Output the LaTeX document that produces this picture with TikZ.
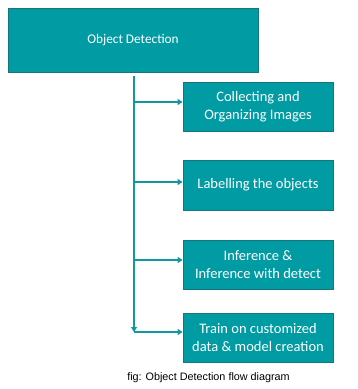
\documentclass[tikz,border=0pt]{standalone}
\usepackage{fontspec}
\setmainfont{Carlito}
\newfontfamily\capfont{Liberation Sans}
\usetikzlibrary{arrows.meta}
\definecolor{tealfill}{RGB}{0,155,163}
\definecolor{tealborder}{RGB}{22,118,124}
\definecolor{tealline}{RGB}{16,152,160}
\begin{document}
\begin{tikzpicture}[x=1pt,y=-1pt,
  box/.style={draw=tealborder,line width=0.8pt,fill=tealfill,text=white,align=center,inner sep=0pt,font=\fontsize{14.5}{17.5}\selectfont},
  conn/.style={draw=tealline,line width=1.8pt,-{Triangle[length=5pt,width=6pt]}}]
\useasboundingbox (0,0) rectangle (357,389);
\node[box,minimum width=250pt,minimum height=64pt,font=\fontsize{13.3}{15}\selectfont] (top) at (133,40) {Object Detection};
\node[box,minimum width=150pt,minimum height=49pt] (b1) at (258,106.5) {Collecting and\\Organizing Images};
\node[box,minimum width=150pt,minimum height=50pt] (b2) at (258,185) {Labelling the objects};
\node[box,minimum width=150pt,minimum height=49pt] (b3) at (258,264.5) {Inference \&\\Inference with detect};
\node[box,minimum width=150pt,minimum height=49pt] (b4) at (258,337.5) {Train on customized\\data \& model creation};
\coordinate (s) at (134,76);
\coordinate (j1) at (134,102);
\coordinate (j2) at (134,182);
\coordinate (j3) at (134,260);
\coordinate (j4) at (134,332);
\draw[conn] (s) -- (j4);
\draw[conn] (j1) -- (j1 -| b1.west);
\draw[conn] (j2) -- (j2 -| b2.west);
\draw[conn] (j3) -- (j3 -| b3.west);
\draw[conn] (j4) -- (j4 -| b4.west);
\node[font=\capfont\fontsize{10.8}{12}\selectfont,inner sep=0pt] (cap) at (208.5,378) {fig: Object Detection flow diagram};
\end{tikzpicture}
\end{document}
